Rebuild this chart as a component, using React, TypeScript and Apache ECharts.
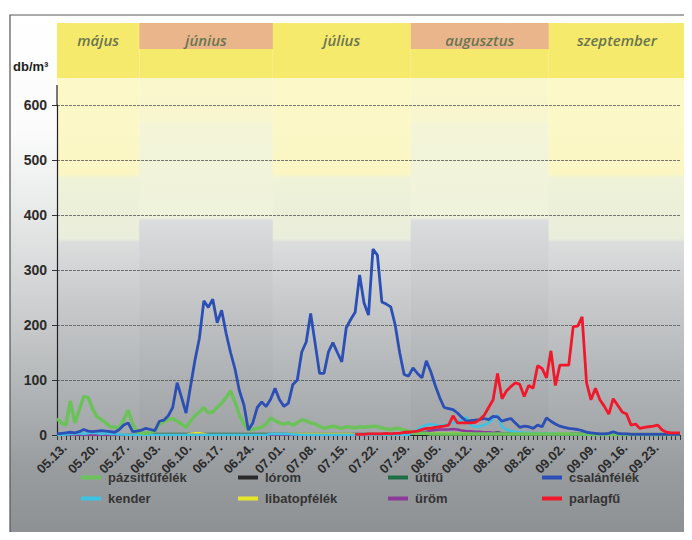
import React, { useEffect, useRef } from "react";
import * as echarts from "echarts";

// ---- categories (daily, 05.13. – 09.30.) ----
const monthSpans: [number, number, number][] = [
  [5, 13, 31],
  [6, 1, 30],
  [7, 1, 31],
  [8, 1, 31],
  [9, 1, 30],
];
const days: string[] = [];
monthSpans.forEach(([m, a, b]) => {
  for (let d = a; d <= b; d++) {
    days.push(String(m).padStart(2, "0") + "." + String(d).padStart(2, "0") + ".");
  }
});

const tickLabels = [
  "05.13.", "05.20.", "05.27.", "06.03.", "06.10.", "06.17.", "06.24.",
  "07.01.", "07.08.", "07.15.", "07.22.", "07.29.", "08.05.", "08.12.",
  "08.19.", "08.26.", "09.02.", "09.09.", "09.16.", "09.23.",
];
const monthNames = ["május", "június", "július", "augusztus", "szeptember"];
const yTicks = [0, 100, 200, 300, 400, 500, 600];

// ---- series values (db/m3), one per day ----
const pazsitfufelek = [
  30, 22, 18, 62, 22, 45, 70, 68, 48, 33,
  28, 22, 15, 14, 12, 28, 45, 20, 6, 4,
  3, 5, 8, 20, 24, 28, 30, 25, 20, 14,
  25, 35, 42, 50, 40, 42, 50, 58, 68, 80,
  60, 36, 20, 10, 10, 12, 14, 20, 31, 26,
  22, 20, 22, 18, 22, 28, 26, 22, 20, 16,
  12, 14, 16, 14, 12, 15, 14, 13, 15, 14,
  15, 16, 15, 13, 11, 10, 12, 12, 9, 7,
  5, 3, 3, 3, 2, 2, 2, 2, 2, 2,
  2, 2, 2, 2, 2, 2, 2, 2, 2, 2,
  2, 2, 2, 2, 2, 2, 2, 2, 2, 2,
  2, 2, 2, 2, 2, 2, 2, 2, 2, 2,
  1, 1, 1, 1, 1, 1, 1, 1, 1, 1,
  1, 1, 1, 1, 1, 1, 1, 1, 1, 1, 1,
];
const csalanfelek = [
  2, 3, 4, 5, 4, 6, 10, 7, 6, 7,
  8, 7, 6, 5, 10, 18, 22, 6, 7, 9,
  12, 10, 8, 25, 27, 35, 50, 95, 68, 40,
  88, 136, 176, 244, 232, 247, 204, 227, 185, 150,
  120, 80, 55, 9, 22, 50, 60, 52, 65, 85,
  64, 52, 58, 92, 100, 151, 169, 221, 167, 112,
  112, 151, 168, 150, 133, 195, 210, 223, 291, 240,
  218, 338, 327, 242, 238, 233, 200, 150, 110, 107,
  122, 112, 104, 135, 115, 90, 68, 50, 48, 46,
  40, 32, 25, 26, 27, 28, 30, 28, 34, 33,
  25, 28, 30, 22, 14, 16, 15, 12, 18, 15,
  31, 25, 20, 16, 14, 12, 11, 10, 8, 5,
  4, 3, 2, 2, 3, 6, 3, 2, 2, 1,
  1, 1, 1, 1, 1, 1, 1, 1, 1, 1, 1,
];
const parlagfu: (number | null)[] = [
  null, null, null, null, null, null, null, null, null, null,
  null, null, null, null, null, null, null, null, null, null,
  null, null, null, null, null, null, null, null, null, null,
  null, null, null, null, null, null, null, null, null, null,
  null, null, null, null, null, null, null, null, null, null,
  null, null, null, null, null, null, null, null, null, null,
  null, null, null, null, null, null, null, 1, 1, 1,
  2, 2, 2, 2, 3, 2, 3, 3, 5, 5,
  6, 7, 10, 12, 12, 14, 15, 16, 18, 35,
  22, 22, 22, 22, 23, 28, 36, 50, 64, 112,
  66, 80, 88, 95, 92, 70, 90, 85, 126, 121,
  104, 153, 90, 127, 127, 127, 197, 198, 215, 95,
  64, 85, 64, 52, 38, 66, 54, 42, 38, 18,
  20, 12, 14, 15, 16, 18, 9, 5, 4, 4, 4,
];
const kender = [
  0, 0, 1, 2, 2, 3, 2, 3, 4, 3,
  2, 3, 2, 2, 1, 1, 0, 0, 0, 0,
  0, 0, 0, 0, 0, 0, 0, 0, 0, 0,
  0, 0, 0, 0, 0, 0, 0, 0, 0, 0,
  0, 0, 0, 0, 0, 0, 0, 0, 2, 2,
  2, 2, 2, 1, 1, 0, 0, 0, 0, 0,
  0, 0, 0, 0, 0, 0, 0, 0, 0, 0,
  0, 0, 0, 0, 0, 0, 0, 0, 0, 0,
  5, 10, 15, 18, 20, 18, 17, 18, 20, 22,
  25, 28, 32, 18, 15, 16, 18, 22, 30, 36,
  15, 10, 7, 6, 5, 4, 4, 3, 3, 3,
  3, 3, 3, 2, 2, 2, 2, 2, 1, 1,
  0, 0, 0, 0, 0, 0, 0, 0, 0, 0,
  0, 0, 0, 0, 0, 0, 0, 0, 0, 0, 0,
];
const urom = [
  0, 0, 0, 0, 0, 0, 0, 0, 0, 0,
  0, 0, 0, 0, 0, 0, 0, 0, 0, 0,
  0, 0, 0, 0, 0, 0, 0, 0, 0, 0,
  0, 0, 0, 0, 0, 0, 0, 0, 0, 0,
  0, 0, 0, 0, 0, 0, 0, 0, 0, 0,
  0, 0, 0, 0, 0, 0, 0, 0, 0, 0,
  0, 0, 0, 0, 0, 0, 0, 0, 0, 0,
  0, 0, 0, 0, 0, 0, 1, 2, 3, 3,
  4, 5, 5, 6, 8, 9, 10, 10, 10, 11,
  10, 8, 7, 7, 6, 6, 5, 5, 4, 4,
  3, 3, 3, 3, 2, 2, 2, 2, 2, 2,
  2, 2, 2, 2, 2, 2, 3, 3, 3, 3,
  3, 2, 2, 2, 2, 2, 2, 2, 2, 2,
  2, 2, 2, 2, 2, 2, 2, 2, 2, 2, 2,
];
const libatopfelek = [
  0, 0, 0, 0, 0, 0, 0, 0, 0, 0,
  0, 0, 0, 0, 0, 0, 0, 0, 0, 0,
  0, 0, 0, 0, 0, 0, 0, 0, 0, 0,
  2, 3, 3, 2, 0, 0, 0, 0, 0, 0,
  0, 0, 0, 0, 0, 0, 0, 0, 0, 0,
  0, 0, 2, 2, 2, 2, 2, 2, 2, 2,
  2, 2, 2, 2, 2, 2, 2, 1, 1, 1,
  1, 1, 1, 1, 1, 1, 1, 3, 3, 3,
  3, 3, 3, 3, 3, 3, 3, 3, 3, 3,
  3, 3, 3, 3, 3, 3, 3, 3, 3, 3,
  3, 3, 3, 3, 3, 3, 3, 3, 3, 3,
  3, 3, 3, 3, 3, 3, 3, 3, 3, 1,
  1, 1, 1, 1, 1, 1, 1, 1, 1, 1,
  1, 1, 1, 1, 1, 1, 1, 1, 1, 1, 1,
];
const utifu = [
  0, 0, 0, 0, 0, 0, 0, 0, 0, 0,
  0, 0, 0, 0, 0, 0, 0, 0, 0, 0,
  2, 2, 2, 2, 2, 2, 2, 2, 2, 2,
  2, 2, 2, 2, 2, 2, 2, 2, 2, 2,
  2, 2, 2, 2, 2, 2, 2, 2, 2, 2,
  2, 2, 2, 2, 2, 2, 2, 2, 2, 2,
  2, 2, 2, 2, 2, 2, 2, 2, 2, 2,
  2, 2, 2, 2, 2, 2, 2, 2, 2, 2,
  2, 3, 3, 3, 3, 3, 3, 3, 3, 3,
  3, 3, 3, 3, 3, 3, 3, 3, 3, 5,
  3, 1, 1, 1, 1, 1, 1, 1, 1, 1,
  1, 1, 1, 1, 1, 1, 1, 1, 1, 1,
  1, 1, 1, 1, 1, 1, 1, 1, 1, 1,
  1, 1, 1, 1, 1, 1, 1, 1, 1, 1, 1,
];
const lorom = [
  0, 0, 0, 0, 0, 0, 0, 0, 0, 0,
  0, 0, 0, 0, 0, 0, 0, 0, 0, 0,
  0, 0, 0, 0, 0, 0, 0, 0, 0, 0,
  0, 0, 0, 0, 0, 0, 0, 0, 0, 0,
  1, 1, 1, 1, 1, 1, 1, 1, 1, 1,
  1, 1, 1, 1, 1, 1, 1, 1, 1, 1,
  1, 1, 1, 1, 1, 1, 1, 1, 1, 1,
  1, 1, 1, 1, 1, 1, 1, 1, 1, 1,
  1, 1, 1, 1, 1, 1, 1, 1, 1, 1,
  1, 1, 1, 1, 1, 1, 1, 1, 1, 1,
  1, 1, 1, 1, 1, 1, 1, 1, 1, 1,
  0, 0, 0, 0, 0, 0, 0, 0, 0, 0,
  0, 0, 0, 0, 0, 0, 0, 0, 0, 0,
  0, 0, 0, 0, 0, 0, 0, 0, 0, 0, 0,
];

const seriesDefs = [
  { name: "lórom", data: lorom, color: "#2a2a2a", width: 2 },
  { name: "útifű", data: utifu, color: "#1f6e48", width: 2.5 },
  { name: "libatopfélék", data: libatopfelek, color: "#e6e62a", width: 2.5 },
  { name: "üröm", data: urom, color: "#8c3a98", width: 2.5 },
  { name: "kender", data: kender, color: "#3cc3e4", width: 2.5 },
  { name: "pázsitfűfélék", data: pazsitfufelek, color: "#6cc25a", width: 3.5 },
  { name: "csalánfélék", data: csalanfelek, color: "#2b4fb4", width: 2.8 },
  { name: "parlagfű", data: parlagfu, color: "#f0182a", width: 2.8 },
];

const legendCols = [
  { items: ["pázsitfűfélék", "kender"], left: 81 },
  { items: ["lórom", "libatopfélék"], left: 238 },
  { items: ["útifű", "üröm"], left: 388 },
  { items: ["csalánfélék", "parlagfű"], left: 542 },
];

const GRID_L = 57;
const GRID_R = 680;
const GRID_T = 105;
const GRID_B = 435;

const sans = '"Liberation Sans", Arial, sans-serif';

export default function App() {
  const ref = useRef<HTMLDivElement>(null);
  useEffect(() => {
    if (!ref.current) return;
    const chart = echarts.init(ref.current, undefined, { renderer: "svg" });

    const starts = [0, 19, 49, 80, 111];
    const dayW = (GRID_R - GRID_L) / (days.length - 1);
    const colX = (i: number) => (i === 0 ? GRID_L : GRID_L + (starts[i] - 0.5) * dayW);
    const colEnd = (i: number) => (i === 4 ? 685 : GRID_L + (starts[i + 1] - 0.5) * dayW);

    const oddGrad = [
      { offset: 0, color: "#fcf8c8" },
      { offset: 0.27, color: "#fbf6c4" },
      { offset: 0.28, color: "#eff3d8" },
      { offset: 0.45, color: "#e9eddb" },
      { offset: 0.46, color: "#dcdddd" },
      { offset: 0.62, color: "#c8cacc" },
      { offset: 0.82, color: "#b4b7b9" },
      { offset: 1, color: "#a4a7aa" },
    ];
    const evenGrad = [
      { offset: 0, color: "#fbf7cc" },
      { offset: 0.12, color: "#f8f6cf" },
      { offset: 0.13, color: "#f4f5d8" },
      { offset: 0.39, color: "#eff2dc" },
      { offset: 0.4, color: "#dbdcdd" },
      { offset: 0.62, color: "#c4c6c8" },
      { offset: 0.82, color: "#b0b3b5" },
      { offset: 1, color: "#a0a3a6" },
    ];

    const graphics: any[] = [];
    graphics.push({
      type: "rect",
      z: -20,
      shape: { x: 10, y: 15, width: 678, height: 530 },
      style: {
        fill: new echarts.graphic.LinearGradient(0, 0, 0, 1, [
          { offset: 0, color: "#ffffff" },
          { offset: 0.22, color: "#fbfbfb" },
          { offset: 0.4, color: "#e4e6e6" },
          { offset: 0.55, color: "#cdcfd0" },
          { offset: 0.72, color: "#b0b3b5" },
          { offset: 0.85, color: "#9a9da0" },
          { offset: 1, color: "#8c8f92" },
        ]),
        stroke: "#555",
        lineWidth: 1.2,
      },
    });
    monthNames.forEach((name, i) => {
      const x0 = colX(i);
      const x1 = colEnd(i);
      const even = i % 2 === 1;
      graphics.push({
        type: "rect",
        z: -15,
        shape: { x: x0, y: 78, width: x1 - x0, height: GRID_B - 78 },
        style: {
          fill: new echarts.graphic.LinearGradient(0, 0, 0, 1, even ? evenGrad : oddGrad),
        },
      });
      graphics.push({
        type: "rect",
        z: -14,
        shape: { x: x0, y: 23, width: x1 - x0, height: 55 },
        style: { fill: "#f6ea6c" },
      });
      if (even) {
        graphics.push({
          type: "rect",
          z: -13,
          shape: { x: x0, y: 23, width: x1 - x0, height: 26 },
          style: { fill: "#eab58a" },
        });
      }
      graphics.push({
        type: "text",
        z: 5,
        x: (x0 + x1) / 2,
        y: 40,
        style: {
          text: name,
          fill: "#6a7550",
          font: 'italic 600 15px "Open Sans", sans-serif',
          align: "center",
          verticalAlign: "middle",
        },
      });
    });
    graphics.push({
      type: "text",
      z: 5,
      x: 13,
      y: 66,
      style: {
        text: "db/m³",
        fill: "#1e1e1e",
        font: 'bold 13px "Liberation Sans", Arial, sans-serif',
        verticalAlign: "middle",
      },
    });
    graphics.push({
      type: "line",
      z: 5,
      shape: { x1: GRID_L, y1: 85, x2: GRID_L, y2: GRID_T },
      style: { stroke: "#222", lineWidth: 1.2 },
    });

    chart.setOption({
      animation: false,
      backgroundColor: "#ffffff",
      grid: { left: GRID_L, right: 692 - GRID_R, top: GRID_T, bottom: 540 - GRID_B },
      graphic: graphics,
      legend: legendCols.map((c) => ({
        data: c.items,
        left: c.left,
        top: 471,
        padding: 0,
        orient: "vertical",
        itemGap: 8,
        itemWidth: 20,
        itemHeight: 4,
        icon: "rect",
        textStyle: {
          color: "#333",
          fontSize: 13,
          fontWeight: "bold",
          fontFamily: sans,
          padding: [0, 0, 0, 2],
        },
      })),
      xAxis: {
        type: "category",
        data: days,
        boundaryGap: false,
        axisLine: { lineStyle: { color: "#222", width: 1.2 } },
        axisTick: { interval: 0, length: 5, lineStyle: { color: "#333" } },
        axisLabel: {
          interval: (_i: number, v: string) => tickLabels.includes(v),
          rotate: 45,
          align: "center",
          verticalAlign: "middle",
          padding: [7, 15, 0, 0],
          color: "#2b2b2b",
          fontSize: 13,
          fontWeight: "bold",
          fontFamily: sans,
          margin: 18,
        },
        splitLine: { show: false },
      },
      yAxis: {
        type: "value",
        min: yTicks[0],
        max: yTicks[yTicks.length - 1],
        interval: 100,
        axisLine: { show: true, lineStyle: { color: "#222", width: 1.2 } },
        axisTick: { show: true, length: 5, lineStyle: { color: "#333" } },
        axisLabel: {
          color: "#2b2b2b",
          fontSize: 14,
          fontWeight: "bold",
          fontFamily: sans,
          margin: 10,
        },
        splitLine: {
          show: true,
          lineStyle: { color: "#555", width: 0.8, type: [3, 1] },
        },
      },
      series: seriesDefs.map((s, i) => ({
        name: s.name,
        type: "line",
        data: s.data,
        showSymbol: false,
        symbol: "none",
        z: 2 + i,
        lineStyle: { color: s.color, width: s.width },
        itemStyle: { color: s.color },
        connectNulls: false,
      })),
    });
    return () => chart.dispose();
  }, []);
  return <div ref={ref} style={{ width: 692, height: 540, margin: -8 }} />;
}
